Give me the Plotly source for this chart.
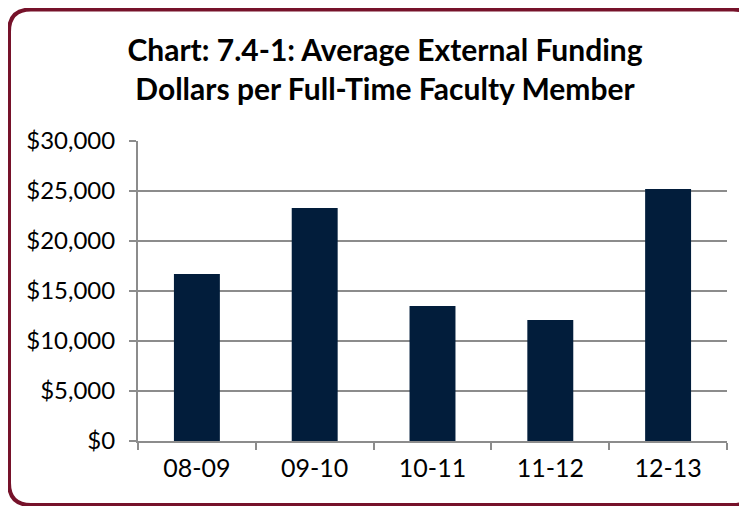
import plotly.graph_objects as go

categories = ["08-09", "09-10", "10-11", "11-12", "12-13"]
values = [16700, 23300, 13500, 12100, 25200]
y_ticks = [0, 5000, 10000, 15000, 20000, 25000, 30000]
y_tick_labels = ["$0", "$5,000", "$10,000", "$15,000", "$20,000", "$25,000", "$30,000"]

# page body has an 8px margin, so the figure is drawn 8px smaller and offset
OFF = 8
W, H = 747 - OFF, 506 - OFF
L, R, T, B = 138 - OFF, 20, 141 - OFF, 65

FONT = "Lato, Open Sans, sans-serif"

fig = go.Figure(go.Bar(x=categories, y=values, marker=dict(color="#021D3B", line=dict(width=0)), width=0.39))

def sx(x):
    return (x - OFF) - L
def sy(y):
    return (H - B) - (y - OFF)

# open frame path: no right edge segment (it lies beyond the visible area in the reference)
x0, y0, x1, y1, r = 9, 9.5, 755, 505, 22
path = (f"M {sx(x1)},{sy(y1-r)} Q {sx(x1)},{sy(y1)} {sx(x1-r)},{sy(y1)} "
        f"L {sx(x0+r)},{sy(y1)} Q {sx(x0)},{sy(y1)} {sx(x0)},{sy(y1-r)} "
        f"L {sx(x0)},{sy(y0+r)} Q {sx(x0)},{sy(y0)} {sx(x0+r)},{sy(y0)} "
        f"L {sx(x1-r)},{sy(y0)} Q {sx(x1)},{sy(y0)} {sx(x1)},{sy(y0+r)}")

fig.add_shape(type="path", path=path, xref="paper", yref="paper", xsizemode="pixel", ysizemode="pixel",
              xanchor=0, yanchor=0, line=dict(color="#76122A", width=4), fillcolor="rgba(0,0,0,0)",
              layer="above")

fig.update_layout(
    width=W, height=H,
    margin=dict(l=L, r=R, t=T, b=B),
    paper_bgcolor="white", plot_bgcolor="white",
    font=dict(family=FONT, color="black"),
    title=dict(text="<b>Chart: 7.4-1: Average External Funding<br>Dollars per Full-Time Faculty Member</b>",
               x=(385 - OFF) / W, xanchor="center", xref="container",
               y=1 - 53 / H, yanchor="top", yref="container",
               font=dict(size=30, family=FONT, color="black")),
    showlegend=False,
    bargap=0.61,
)
fig.update_xaxes(type="category", showline=True, linecolor="#8c8c8c", linewidth=2,
                 ticks="outside", tickson="boundaries", ticklen=7, tickcolor="#8c8c8c", tickwidth=2,
                 tickfont=dict(size=25), ticklabelstandoff=4, showgrid=False)
fig.update_yaxes(range=[0, 30000], tickvals=y_ticks, ticktext=y_tick_labels,
                 showline=True, linecolor="#8c8c8c", linewidth=2,
                 ticks="outside", ticklen=7, tickcolor="#8c8c8c", tickwidth=2,
                 showgrid=True, gridcolor="#8c8c8c", gridwidth=2, zeroline=False,
                 tickfont=dict(size=24), ticklabelstandoff=9)

fig.write_html("out.html")
